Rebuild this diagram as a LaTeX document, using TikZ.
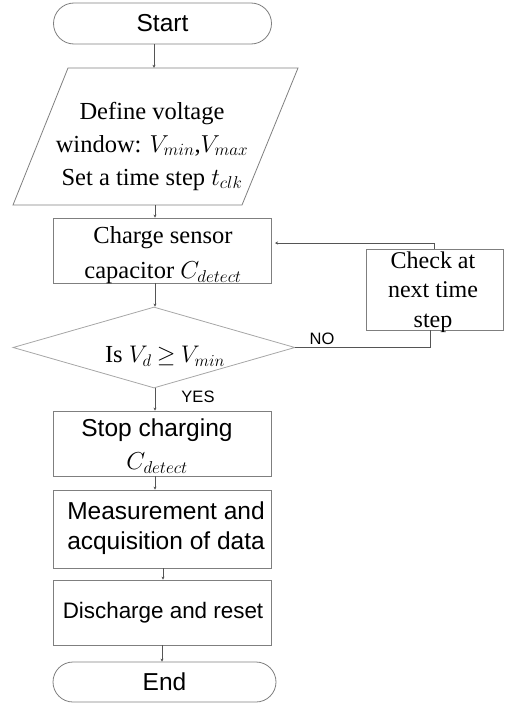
\RequirePackage{fix-cm}
\documentclass[tikz,border=0pt]{standalone}
\usepackage{fontspec}
\setmainfont{Liberation Serif}
\setsansfont{Liberation Sans}
\usetikzlibrary{shapes.misc,shapes.geometric,arrows.meta,calc}
\definecolor{boxc}{HTML}{7F7F7F}
\definecolor{dmdc}{HTML}{A6A6A6}
\definecolor{linec}{HTML}{555555}
\tikzset{
  term/.style={draw=boxc,line width=0.8pt,rounded rectangle,minimum width=218pt,minimum height=41pt,inner sep=0pt,font=\sffamily\fontsize{24.5}{30}\selectfont},
  procbox/.style={draw=boxc,line width=0.8pt,rectangle,inner sep=0pt},
  txt/.style={align=center,inner sep=0pt},
  serift/.style={font=\rmfamily\fontsize{24.5}{33}\selectfont},
  sanst/.style={font=\sffamily\fontsize{24.5}{30}\selectfont},
  small/.style={font=\sffamily\fontsize{16.5}{18}\selectfont,inner sep=0pt},
  conn/.style={draw=linec,line width=0.8pt,-{Stealth[length=3pt,width=3pt]}},
  plain/.style={draw=linec,line width=0.8pt}
}
\begin{document}
\begin{tikzpicture}[x=1pt,y=-1pt]
\useasboundingbox (0,0) rectangle (505,704);
% Start
\node[term] (start) at (162.5,23.5) {Start};
% parallelogram
\draw[boxc,line width=0.8pt] (68,68) -- (298,68) -- (242,205) -- (13,205) -- cycle;
\node[draw=none,minimum width=229pt,minimum height=137pt,inner sep=0pt] (param) at (155,136.5) {};
\node[txt,serift] (paramtxt) at (152,146) {Define voltage\\window: $V_{min}$,$V_{max}$\\Set a time step $t_{clk}$};
% charge box
\node[procbox,minimum width=218pt,minimum height=65pt] (charge) at (162,250.5) {};
\node[txt,serift,font=\rmfamily\fontsize{24.5}{35}\selectfont] (chargetxt) at (163,255) {Charge sensor\\capacitor $C_{detect}$};
% diamond
\node[draw=dmdc,line width=0.8pt,diamond,minimum width=282pt,minimum height=81pt,inner sep=0pt] (dec) at (154,347.5) {};
\node[txt,serift] (dectxt) at (165,356) {Is {\fontsize{24}{28}\selectfont$V_d\mkern4mu{\geq}\mkern4mu V_{min}$}};
% check box
\node[procbox,minimum width=137pt,minimum height=81pt] (check) at (434.5,289.5) {};
\node[txt,serift,font=\rmfamily\fontsize{24}{29.5}\selectfont] (checktxt) at (433,292) {Check at\\next time\\step};
% stop box
\node[procbox,minimum width=218pt,minimum height=65pt] (stop) at (162,443.5) {};
\node[txt,sanst] (stoptxt1) at (157,430) {Stop charging};
\node[txt,serift] (stoptxt2) at (157,463) {$C_{detect}$};
% measurement box
\node[procbox,minimum width=218pt,minimum height=78pt] (meas) at (162,529) {};
\node[txt,sanst] (meastxt) at (166,528) {Measurement and\\acquisition of data};
% discharge box
\node[procbox,minimum width=218pt,minimum height=65pt] (dis) at (162,612.5) {};
\node[txt,sanst,font=\sffamily\fontsize{22.4}{28}\selectfont] (distxt) at (163,613) {Discharge and reset};
% End
\node[term,minimum width=223pt,minimum height=40pt] (end) at (164.5,682) {End};
% labels
\node[small] (no) at (322,339) {NO};
\node[small] (yes) at (198,397) {YES};
% connectors
\coordinate (fb) at (275,243);
\draw[conn] (start.south -| 154,0) -- (param.north -| 154,0);
\draw[conn] (param.south) -- (param.south |- charge.north);
\draw[conn] (charge.south -| 155,0) -- (dec.north -| 155,0);
\draw[plain] (dec.east) -| ($(check.south)+(-4,0)$);
\draw[conn] (check.north) |- (fb);
\draw[conn] (dec.south -| 155,0) -- (stop.north -| 155,0);
\draw[conn] (stop.south -| 155,0) -- (meas.north -| 155,0);
\draw[conn] (meas.south -| 163,0) -- (dis.north -| 163,0);
\draw[conn] (dis.south -| 162,0) -- (end.north -| 162,0);
\end{tikzpicture}
\end{document}
